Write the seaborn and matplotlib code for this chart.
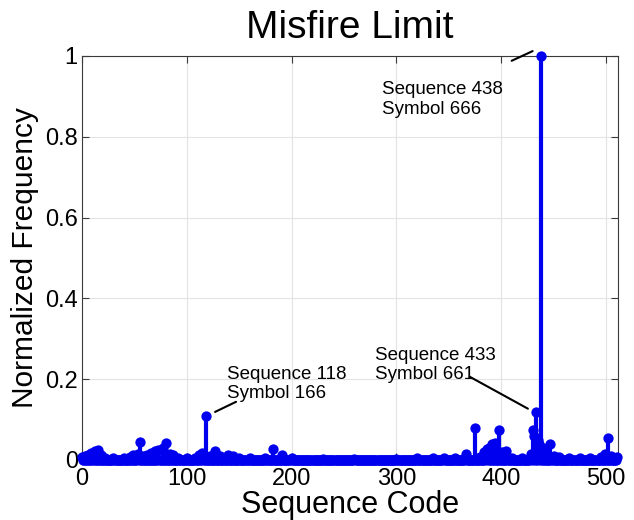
import numpy as np
import pandas as pd
import matplotlib
matplotlib.use("Agg")
import matplotlib.pyplot as plt
import seaborn as sns

# All 512 sequence codes; only the ones listed below occur with non-zero frequency
sequence_codes = np.arange(512)

active_codes = [0, 3, 6, 9, 12, 15, 18, 22, 30, 40, 46, 49, 53, 55, 58, 62, 66, 70,
                73, 77, 80, 84, 87, 92, 100, 108, 112, 115, 118, 122, 127, 132, 139,
                144, 150, 160, 175, 182, 191, 200, 230, 260, 300, 320, 335, 345, 356,
                366, 375, 380, 384, 386, 388, 391, 394, 398, 401, 405, 410, 420, 428,
                430, 431, 433, 435, 436, 438, 440, 443, 447, 450, 455, 465, 475, 485,
                495, 499, 502, 505, 511]
active_freqs = [0.008, 0.010, 0.012, 0.017, 0.022, 0.025, 0.012, 0.006, 0.004, 0.005,
                0.008, 0.012, 0.015, 0.045, 0.010, 0.012, 0.017, 0.022, 0.025, 0.030,
                0.042, 0.015, 0.012, 0.006, 0.004, 0.006, 0.012, 0.018, 0.110, 0.010,
                0.022, 0.010, 0.013, 0.011, 0.005, 0.004, 0.006, 0.027, 0.012, 0.004,
                0.003, 0.003, 0.003, 0.004, 0.004, 0.004, 0.005, 0.016, 0.078, 0.008,
                0.020, 0.027, 0.030, 0.040, 0.042, 0.075, 0.020, 0.022, 0.006, 0.004,
                0.015, 0.075, 0.060, 0.120, 0.050, 0.040, 1.000, 0.030, 0.020, 0.040,
                0.010, 0.008, 0.006, 0.006, 0.005, 0.008, 0.015, 0.055, 0.010, 0.008]

x_ticks = [0, 100, 200, 300, 400, 500]
y_ticks = [0, 0.2, 0.4, 0.6, 0.8, 1.0]
y_tick_labels = ["0", "0.2", "0.4", "0.6", "0.8", "1"]

freq = np.zeros(len(sequence_codes))
freq[active_codes] = active_freqs
df = pd.DataFrame({"code": sequence_codes, "freq": freq})

sns.set_theme(style="whitegrid")
plt.rcParams["font.family"] = ["Liberation Sans", "DejaVu Sans"]

fig = plt.figure(figsize=(6.34, 5.2), dpi=100)
ax = fig.add_axes([0.1293, 0.1154, 0.8455, 0.777])
ax.set_facecolor("white")

stem_color = "#0000ee"
ax.vlines(df["code"], 0, df["freq"], color=stem_color, lw=3, zorder=2)
ax.axhline(0, color=stem_color, lw=3, zorder=2)
sns.scatterplot(data=df, x="code", y="freq", ax=ax, color=stem_color, s=55,
                linewidth=0, clip_on=False, zorder=3, legend=False)

ax.set_xlim(0, 511.5)
ax.set_ylim(0, 1)
ax.set_xticks(x_ticks)
ax.set_yticks(y_ticks)
ax.set_yticklabels(y_tick_labels)

ax.grid(True, color="#e3e3e3", lw=0.8)
for side in ["left", "right", "top", "bottom"]:
    ax.spines[side].set_visible(True)
    ax.spines[side].set_color("#3a3a3a")
    ax.spines[side].set_linewidth(0.8)
ax.tick_params(direction="in", length=5, width=0.8, color="#3a3a3a",
               labelsize=17, labelcolor="black", top=True, right=True,
               bottom=True, left=True)
ax.tick_params(axis="x", pad=6)
ax.tick_params(axis="y", pad=3)

ax.set_title("Misfire Limit", fontsize=28, pad=13, color="black")
ax.set_xlabel("Sequence Code", fontsize=22, labelpad=0, color="black")
ax.set_ylabel("Normalized Frequency", fontsize=21.5, labelpad=4, color="black")

# Data tips with leader lines
tips = [
    ("Sequence 438\nSymbol 666", (286, 0.938), (410, 0.988), (430, 1.012)),
    ("Sequence 118\nSymbol 166", (138, 0.233), (127, 0.119), (147, 0.144)),
    ("Sequence 433\nSymbol 661", (280, 0.280), (370, 0.206), (425.5, 0.127)),
]
for label, text_xy, line_start, line_end in tips:
    ax.text(*text_xy, label, fontsize=13.5, va="top", ha="left",
            linespacing=1.2, color="black", zorder=4)
    ax.annotate("", xy=line_end, xytext=line_start,
                arrowprops=dict(arrowstyle="-", lw=1.5, color="black",
                                shrinkA=0, shrinkB=0),
                annotation_clip=False, zorder=4)

fig.savefig("out.png", dpi=100)
